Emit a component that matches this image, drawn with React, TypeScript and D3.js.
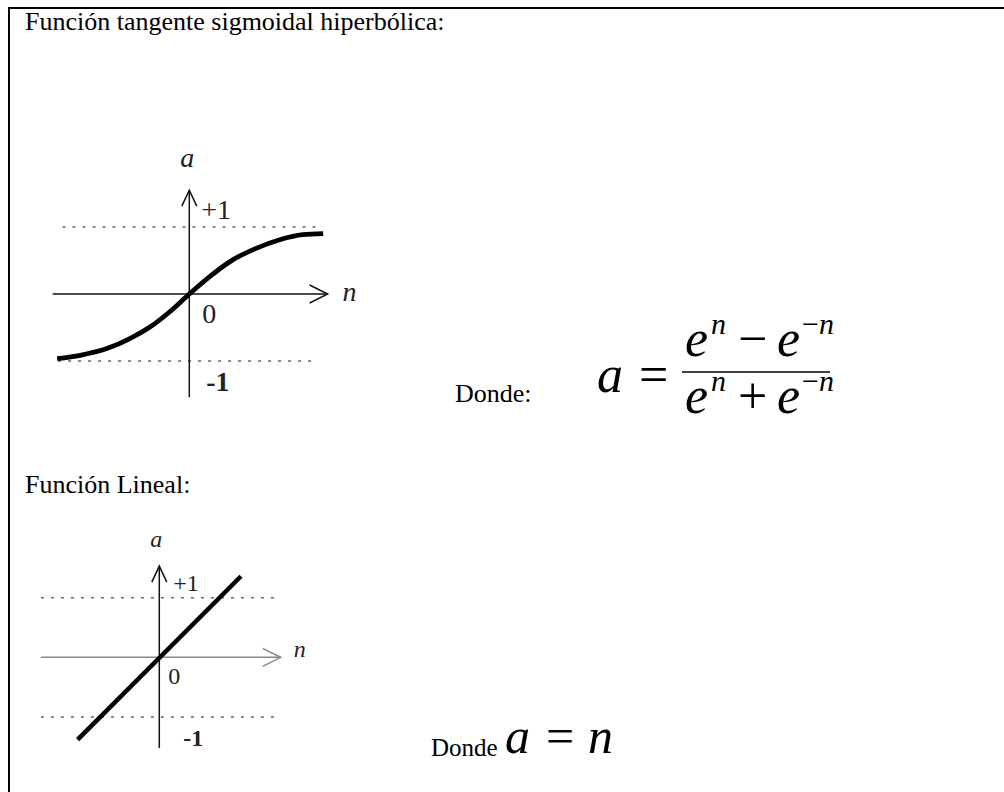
import React from "react";
import * as d3 from "d3";

// curve (n, a)
const tanhN = [-1.49, -1.23, -0.93, -0.67, -0.44, -0.22, 0, 0.23, 0.49, 0.76, 1.02, 1.28, 1.51];
const tanhA = [-0.965, -0.915, -0.815, -0.665, -0.49, -0.265, 0, 0.26, 0.51, 0.685, 0.81, 0.885, 0.9];

// linear function end points
const linN = [-1.38, 1.38];
const linA = [-1.38, 1.36];

const tickLabels = ["+1", "0", "-1"];
const axisNames = ["a", "n"];

const serif = "'Liberation Serif', 'Times New Roman', serif";

function Arrow({ d, stroke, width }) {
  return <path d={d} fill="none" stroke={stroke} strokeWidth={width} />;
}

function Plot({ x, y, nVals, aVals, xExt, yExt, dotTop, dotBot, curve, lw, size, hStroke, off }) {
  const pts = nVals.map((n, i) => [x(n), y(aVals[i])]);
  const line = d3.line().curve(curve)(pts);
  const x0 = x(0), y0 = y(0);
  const xl = x(xExt[0]), xr = x(xExt[1]);
  const yt = y(yExt[1]), yb = y(yExt[0]);
  return (
    <g>
      <line x1={x(dotTop[0])} x2={x(dotTop[1])} y1={y(1)} y2={y(1)} stroke="#666" strokeWidth={1.6} strokeDasharray="3,7" />
      <line x1={x(dotBot[0])} x2={x(dotBot[1])} y1={y(-1)} y2={y(-1)} stroke="#666" strokeWidth={1.6} strokeDasharray="3,7" />
      <line x1={xl} x2={xr} y1={y0} y2={y0} stroke={hStroke} strokeWidth={1.5} />
      <Arrow d={`M${xr - 18},${y0 - 9}L${xr},${y0}L${xr - 18},${y0 + 9}`} stroke={hStroke} width={1.5} />
      <line x1={x0} x2={x0} y1={yt} y2={yb} stroke="#111" strokeWidth={1.5} />
      <Arrow d={`M${x0 - 7.5},${yt + 16}L${x0},${yt}L${x0 + 7.5},${yt + 16}`} stroke="#111" width={1.5} />
      <path d={line} fill="none" stroke="#000" strokeWidth={lw} />
      <g fontFamily={serif} fill="#222" fontSize={size}>
        <text x={x0 + off.a[0]} y={yt + off.a[1]} fontStyle="italic" textAnchor="middle">{axisNames[0]}</text>
        <text x={xr + off.n[0]} y={y0 + off.n[1]} fontStyle="italic">{axisNames[1]}</text>
        <text x={x0 + off.p[0]} y={y(1) + off.p[1]}>{tickLabels[0]}</text>
        <text x={x0 + off.z[0]} y={y0 + off.z[1]}>{tickLabels[1]}</text>
        <text x={x0 + off.m[0]} y={y(-1) + off.m[1]} fontWeight="bold">{tickLabels[2]}</text>
      </g>
    </g>
  );
}

export default function App() {
  const xT = d3.scaleLinear().domain([-1.5, 1.5]).range([56.3, 322.3]);
  const yT = d3.scaleLinear().domain([-1, 1]).range([361, 227]);
  const xL = d3.scaleLinear().domain([-2, 2]).range([40.9, 277.7]);
  const yL = d3.scaleLinear().domain([-1, 1]).range([717, 597.7]);

  const it = { fontStyle: "italic" };
  const sup = 30;
  return (
    <svg width={1004} height={792} style={{ position: "absolute", left: 0, top: 0, background: "#fff" }}>
      <path d="M9,792V8H1004" fill="none" stroke="#000" strokeWidth={2} />
      <g fontFamily={serif} fontSize={26} fill="#000">
        <text x={25} y={30}>Función tangente sigmoidal hiperbólica:</text>
        <text x={25} y={493}>Función Lineal:</text>
        <text x={455} y={402}>Donde:</text>
        <text fontSize={25} x={431} y={756}>Donde</text>
      </g>

      <Plot x={xT} y={yT} nVals={tanhN} aVals={tanhA} xExt={[-1.54, 1.56]} yExt={[-1.54, 1.55]}
        dotTop={[-1.43, 1.5]} dotBot={[-1.48, 1.38]} curve={d3.curveMonotoneX} lw={4.8} size={28}
        hStroke="#111" off={{ a: [-2, -23], n: [15, 7], p: [12, -8], z: [13, 29], m: [17, 30] }} />
      <Plot x={xL} y={yL} nVals={linN} aVals={linA} xExt={[-2, 2.05]} yExt={[-1.52, 1.53]}
        dotTop={[-2, 2]} dotBot={[-2, 2]} curve={d3.curveLinear} lw={4.5} size={24}
        hStroke="#888" off={{ a: [-3, -19], n: [13, 0], p: [14, -7], z: [9, 27], m: [24, 29] }} />

      <g fontFamily={serif} fill="#000" fontSize={52}>
        <text x={597} y={392} {...it}>a</text>
        <text x={639} y={392}>=</text>
        <line x1={682} x2={830} y1={372} y2={372} stroke="#000" strokeWidth={1.3} />
        <text y={356}>
          <tspan x={685} {...it}>e</tspan>
          <tspan x={711} dy={-22} fontSize={sup} {...it}>n</tspan>
          <tspan x={738} dy={22}>−</tspan>
          <tspan x={777} {...it}>e</tspan>
          <tspan x={802} dy={-22} fontSize={sup}>−</tspan>
          <tspan fontSize={sup} {...it}>n</tspan>
        </text>
        <text y={413}>
          <tspan x={685} {...it}>e</tspan>
          <tspan x={711} dy={-22} fontSize={sup} {...it}>n</tspan>
          <tspan x={738} dy={22}>+</tspan>
          <tspan x={777} {...it}>e</tspan>
          <tspan x={802} dy={-22} fontSize={sup}>−</tspan>
          <tspan fontSize={sup} {...it}>n</tspan>
        </text>
        <text x={505} y={753} fontSize={50} {...it}>a</text>
        <text x={546} y={753} fontSize={50}>=</text>
        <text x={588} y={753} fontSize={50} {...it}>n</text>
      </g>
    </svg>
  );
}
